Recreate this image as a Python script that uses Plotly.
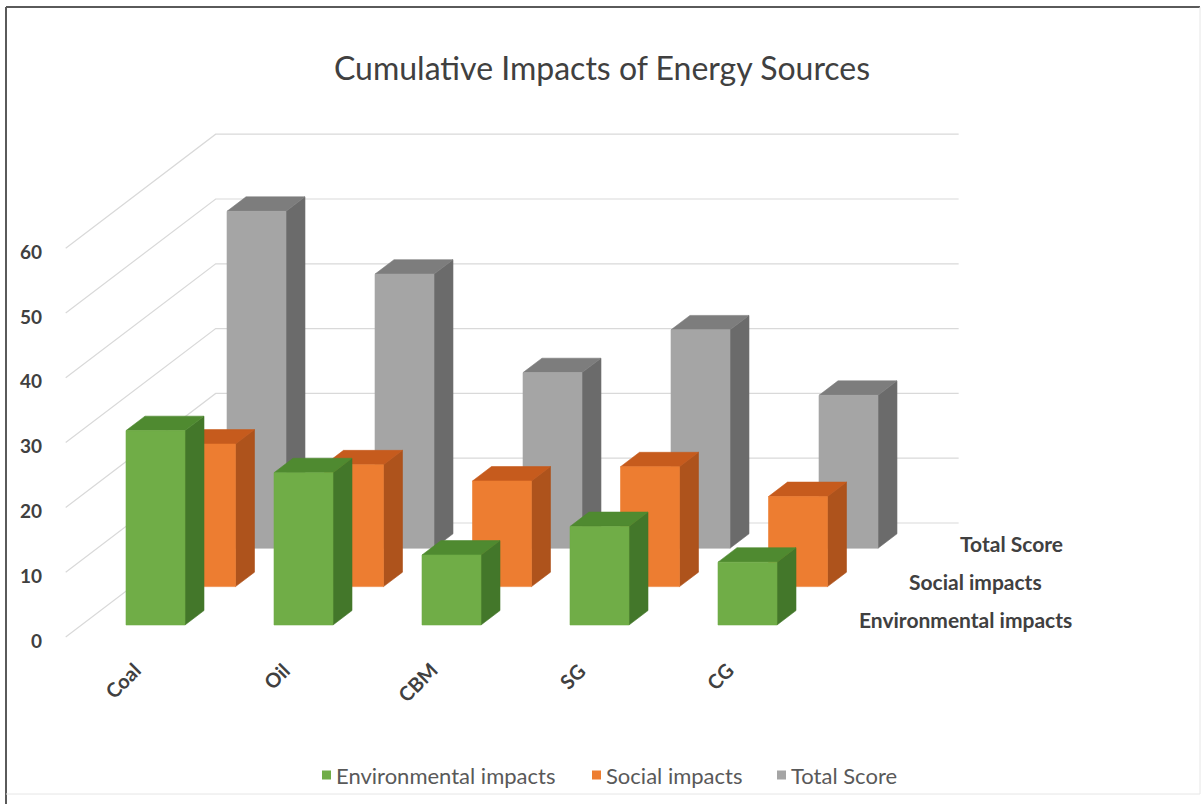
import plotly.graph_objects as go

# ---- data -------------------------------------------------------------
categories = ["Coal", "Oil", "CBM", "SG", "CG"]
series_names = ["Environmental impacts", "Social impacts", "Total Score"]
environmental = [30.0, 23.5, 10.8, 15.2, 9.7]
social = [22.0, 18.8, 16.3, 18.5, 13.9]
total = [52.0, 42.3, 27.1, 33.7, 23.6]
tick_values = [0, 10, 20, 30, 40, 50, 60]

# ---- styling ----------------------------------------------------------
FRONT = ["#70AD47", "#ED7D31", "#A5A5A5"]
TOP = ["#4F8A30", "#C65B1D", "#7D7D7D"]
SIDE = ["#43772A", "#AE531C", "#6B6B6B"]
GRID = "#D9D9D9"
FONT = "Lato"

W, H = 1204, 804
PX_PER_CAT = 148.0      # horizontal pixels between categories
PX_PER_UNIT = 6.48      # vertical pixels per value unit
ORIGIN_PX = (139.7, 637.0)  # first category, value 0, front of floor

# oblique projection: one depth slot moves right and up
SLOT_DX = 50.5 / PX_PER_CAT
SLOT_DY = 0.76 * 50.5 / PX_PER_UNIT
ROW_FRONT = 0.313       # depth of the first row's front face
BAR_DEPTH = 0.376       # depth of a column
BACK_WALL = 2.97        # depth of the back wall
HALF_W = 59.0 / PX_PER_CAT / 2
FLOOR_L, FLOOR_R = -0.5, 4.52

# legend layout (pixels): left edge of each swatch, row centre, swatch size
LEGEND_LEFT = [322, 592, 777]
LEGEND_Y = 775
SWATCH = 9


def proj(x, s, v):
    return x + s * SLOT_DX, v + s * SLOT_DY


def poly(points):
    xs, ys = [], []
    for p in points:
        px, py = proj(*p)
        xs.append(px)
        ys.append(py)
    xs.append(xs[0])
    ys.append(ys[0])
    return xs, ys


fig = go.Figure()

# gridlines on the side and back walls
gx, gy = [], []
for v in tick_values:
    for p in [(FLOOR_L, 0, v), (FLOOR_L, BACK_WALL, v), (FLOOR_R, BACK_WALL, v)]:
        px, py = proj(*p)
        gx.append(px)
        gy.append(py)
    gx.append(None)
    gy.append(None)
fig.add_trace(go.Scatter(x=gx, y=gy, mode="lines", line=dict(color=GRID, width=1.2),
                         hoverinfo="skip", showlegend=False))

# columns, back row first so nearer rows cover it
rows = [environmental, social, total]
for j in reversed(range(3)):
    values = rows[j]
    s0 = ROW_FRONT + j
    s1 = s0 + BAR_DEPTH
    faces = {"front": ([], []), "top": ([], []), "side": ([], [])}
    for i, v in enumerate(values):
        l, r = i - HALF_W, i + HALF_W
        shapes = {
            "front": [(l, s0, 0), (r, s0, 0), (r, s0, v), (l, s0, v)],
            "top": [(l, s0, v), (r, s0, v), (r, s1, v), (l, s1, v)],
            "side": [(r, s0, 0), (r, s1, 0), (r, s1, v), (r, s0, v)],
        }
        for k, pts in shapes.items():
            xs, ys = poly(pts)
            faces[k][0].extend(xs + [None])
            faces[k][1].extend(ys + [None])
    for k, color in (("side", SIDE[j]), ("top", TOP[j]), ("front", FRONT[j])):
        fig.add_trace(go.Scatter(
            x=faces[k][0], y=faces[k][1], mode="lines", fill="toself",
            fillcolor=color, line=dict(width=0.6, color=color),
            name=series_names[j], hoverinfo="skip", showlegend=False))

annotations = []
# value axis labels at the front edge of the side wall
for v in tick_values:
    px, py = proj(FLOOR_L, 0, v)
    annotations.append(dict(x=px, y=py, text=f"<b>{v}</b>", showarrow=False,
                            xanchor="right", yanchor="middle", xshift=-22, yshift=-3,
                            font=dict(family=FONT, size=19, color="#404040")))
# category labels, rotated
for i, c in enumerate(categories):
    px, py = proj(i, 0, 0)
    annotations.append(dict(x=px, y=py, text=f"<b>{c}</b>", showarrow=False,
                            textangle=-45, xanchor="right", yanchor="top",
                            xshift=9, yshift=-18,
                            font=dict(family=FONT, size=20, color="#404040")))
# series labels along the depth axis
for j, name in enumerate(series_names):
    px, py = proj(FLOOR_R, ROW_FRONT + j + BAR_DEPTH / 2, 0)
    annotations.append(dict(x=px, y=py, text=f"<b>{name}</b>", showarrow=False,
                            xanchor="left", yanchor="middle", xshift=23, yshift=-2,
                            font=dict(family=FONT, size=21, color="#404040")))
# title
annotations.append(dict(x=0.5, y=1 - 67 / H, xref="paper", yref="paper",
                        text="Cumulative Impacts of Energy Sources", showarrow=False,
                        xanchor="center", yanchor="middle",
                        font=dict(family=FONT, size=32, color="#404040")))

# legend: swatch plus label for each series
shapes = []
for j, name in enumerate(series_names):
    left = LEGEND_LEFT[j]
    shapes.append(dict(type="rect", xref="paper", yref="paper",
                       x0=left / W, x1=(left + SWATCH) / W,
                       y0=1 - (LEGEND_Y + SWATCH / 2) / H, y1=1 - (LEGEND_Y - SWATCH / 2) / H,
                       fillcolor=FRONT[j], line=dict(width=0)))
    annotations.append(dict(x=(left + SWATCH + 3) / W, y=1 - LEGEND_Y / H,
                            xref="paper", yref="paper", text=name, showarrow=False,
                            xanchor="left", yanchor="middle",
                            font=dict(family=FONT, size=22, color="#595959")))

# outer frame
shapes += [
    dict(type="line", xref="paper", yref="paper", x0=6 / W, x1=6 / W, y0=0, y1=1 - 7 / H,
         line=dict(color="#5A5A5A", width=2)),
    dict(type="line", xref="paper", yref="paper", x0=6 / W, x1=1200 / W,
         y0=1 - 7 / H, y1=1 - 7 / H, line=dict(color="#5A5A5A", width=2)),
    dict(type="line", xref="paper", yref="paper", x0=1200 / W, x1=1200 / W,
         y0=1 - 794 / H, y1=1 - 7 / H, line=dict(color="#E6E6E6", width=1)),
    dict(type="line", xref="paper", yref="paper", x0=6 / W, x1=1200 / W,
         y0=1 - 794 / H, y1=1 - 794 / H, line=dict(color="#E6E6E6", width=1)),
]

x0 = (0 - ORIGIN_PX[0]) / PX_PER_CAT
x1 = (W - ORIGIN_PX[0]) / PX_PER_CAT
y0 = (ORIGIN_PX[1] - H) / PX_PER_UNIT
y1 = ORIGIN_PX[1] / PX_PER_UNIT

fig.update_layout(
    width=W, height=H,
    margin=dict(l=0, r=0, t=0, b=0),
    paper_bgcolor="white", plot_bgcolor="white",
    xaxis=dict(range=[x0, x1], visible=False, type="linear", fixedrange=True),
    yaxis=dict(range=[y0, y1], visible=False, type="linear", fixedrange=True),
    showlegend=False,
    annotations=annotations,
    shapes=shapes,
)

fig.write_html("out.html")
